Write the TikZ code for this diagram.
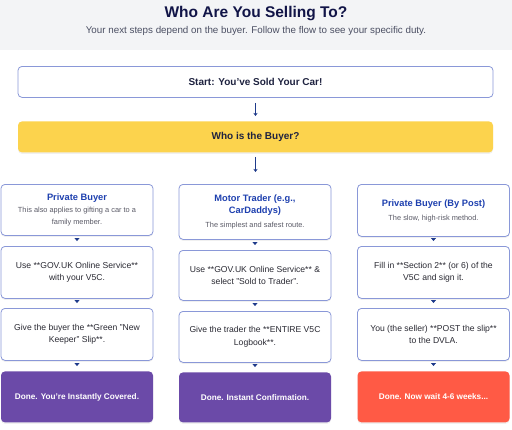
\documentclass[tikz,border=0pt]{standalone}
\usepackage{fontspec}
\setmainfont{Liberation Sans}
\usetikzlibrary{arrows.meta,shadows}

\definecolor{headbg}{HTML}{F3F4F6}
\definecolor{titleink}{HTML}{111447}
\definecolor{subink}{HTML}{4B4F63}
\definecolor{cardline}{HTML}{8A98D8}
\definecolor{cardink}{HTML}{1F2340}
\definecolor{bodyink}{HTML}{2A2A33}
\definecolor{headblue}{HTML}{1E40AF}
\definecolor{noteink}{HTML}{5A5A66}
\definecolor{arrowblue}{HTML}{1E3A8A}
\definecolor{buyeryellow}{HTML}{FCD34D}
\definecolor{donepurple}{HTML}{6B4AA8}
\definecolor{donered}{HTML}{FF5A45}

% column heading: blue title over a grey note
\newcommand{\colhead}[2]{\parbox[c]{148pt}{\centering
  \textcolor{headblue}{\fontsize{9.3}{14}\selectfont\bfseries #1}\\[1.5pt]
  \textcolor{noteink}{\fontsize{7.4}{10}\selectfont #2}}}

\begin{document}
\begin{tikzpicture}[x=1pt,y=-1pt,
    card/.style={draw=cardline, line width=0.8pt, rounded corners=4pt, fill=white,
      minimum width=152pt, align=center, anchor=north, inner sep=2pt,
      text=bodyink, font=\fontsize{8.6}{12.5}\selectfont},
    wide/.style={card, minimum width=475pt, minimum height=31pt,
      text=cardink, font=\fontsize{10}{12}\selectfont\bfseries},
    done/.style={card, draw=none, minimum height=51pt, text=white,
      font=\fontsize{8.2}{10}\selectfont\bfseries},
    shade card/.style={drop shadow={opacity=0.12, shadow xshift=0pt, shadow yshift=-1.5pt}},
    flow/.style={-{Stealth[length=3pt,width=4pt]}, arrowblue, line width=0.9pt},
    stepflow/.style={-{Triangle[length=3pt,width=5pt]}, arrowblue, line width=0.4pt,
      shorten <=2.5pt, shorten >=5pt}]

  \useasboundingbox (0,0) rectangle (512,429);

  % Header band
  \fill[headbg] (0,0) rectangle (512,50);
  \node[anchor=base, text=titleink, font=\fontsize{15.5}{18}\selectfont\bfseries]
    (title) at (256,17) {Who Are You Selling To?};
  \node[anchor=base, text=subink, font=\fontsize{9.8}{11}\selectfont]
    (subtitle) at (256,33) {Your next steps depend on the buyer. Follow the flow to see your specific duty.};

  % Start and question
  \node[wide] (start) at (255.5,66) {Start: You've Sold Your Car!};
  \node[wide, shade card, draw=none, fill=buyeryellow] (buyer) at (255.5,121) {Who is the Buyer?};
  \coordinate (split) at (255.5,172);
  \draw[flow, shorten <=5pt, shorten >=5pt] (start.south) -- (buyer.north);
  \draw[flow, shorten <=4pt] (buyer.south) -- (split);

  % Column 1 - private buyer
  \node[card, shade card, minimum height=51pt] (pb) at (77,184)
    {\colhead{Private Buyer}{This also applies to gifting a car to a\\ family member.}};
  \node[card, shade card, minimum height=52pt] (pbUse) at (77,246)
    {Use **GOV.UK Online Service**\\ with your V5C.};
  \node[card, shade card, minimum height=52pt] (pbSlip) at (77,308)
    {Give the buyer the **Green "New\\ Keeper" Slip**.};
  \node[done, shade card, fill=donepurple] (pbDone) at (77,371)
    {Done. You're Instantly Covered.};

  % Column 2 - motor trader
  \node[card, shade card, minimum height=55pt] (mt) at (255,184)
    {\colhead{Motor Trader (e.g.,\\ CarDaddys)}{The simplest and safest route.}};
  \node[card, shade card, minimum height=50pt] (mtUse) at (255,250)
    {Use **GOV.UK Online Service** \&\\ select "Sold to Trader".};
  \node[card, shade card, minimum height=51pt] (mtBook) at (255,311)
    {Give the trader the **ENTIRE V5C\\ Logbook**.};
  \node[done, shade card, fill=donepurple, minimum height=50pt] (mtDone) at (255,372)
    {Done. Instant Confirmation.};

  % Column 3 - private buyer by post
  \node[card, shade card, minimum height=52pt] (pp) at (433.5,184)
    {\colhead{Private Buyer (By Post)}{The slow, high-risk method.}};
  \node[card, shade card, minimum height=52pt] (ppFill) at (433.5,246)
    {Fill in **Section 2** (or 6) of the\\ V5C and sign it.};
  \node[card, shade card, minimum height=52pt] (ppPost) at (433.5,308)
    {You (the seller) **POST the slip**\\ to the DVLA.};
  \node[done, shade card, fill=donered] (ppDone) at (433.5,371)
    {Done. Now wait 4-6 weeks...};

  % Step arrows
  \foreach \a/\b in {pb/pbUse, pbUse/pbSlip, pbSlip/pbDone,
                     mt/mtUse, mtUse/mtBook, mtBook/mtDone,
                     pp/ppFill, ppFill/ppPost, ppPost/ppDone}
    \draw[stepflow] (\a.south) -- (\b.north);

\end{tikzpicture}
\end{document}
